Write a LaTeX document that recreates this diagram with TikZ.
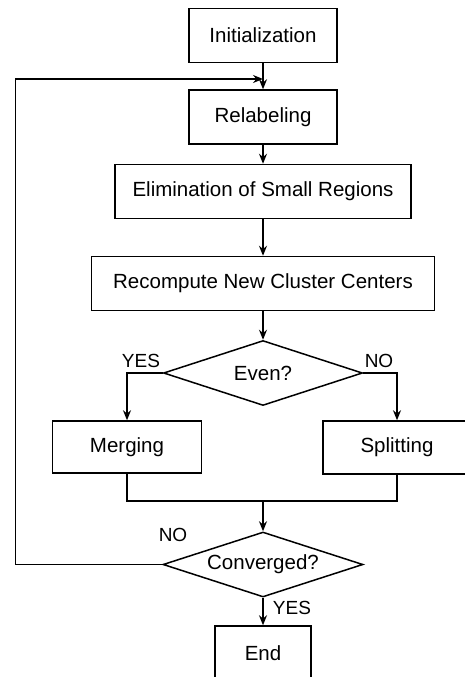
\documentclass[tikz,border=0pt]{standalone}
\usepackage{fontspec}
\setmainfont{Liberation Sans}
\usetikzlibrary{shapes.geometric, arrows.meta}
\begin{document}
\begin{tikzpicture}[>={Stealth[length=10pt, width=8pt]}, x=1pt, y=-1pt, line width=1.5pt,
  font=\fontsize{20.5}{24}\selectfont,
  box/.style={draw, minimum height=54pt, inner sep=0pt},
  decide/.style={draw, diamond, aspect=3, inner sep=0pt, minimum width=199pt, minimum height=65pt},
  lab/.style={font=\fontsize{19}{22}\selectfont, inner sep=0pt}]
\useasboundingbox(0,0)rectangle(465,677);
\clip(0,0)rectangle(465,677);
\node[box, minimum width=148pt](init) at (263,35.5){Initialization};
\node[box, minimum width=148pt](relab) at (263,117){Relabeling};
\node[box, minimum width=296pt](elim) at (263,191.5){Elimination of Small Regions};
\node[box, minimum width=343pt](recomp) at (263,283.5){Recompute New Cluster Centers};
\node[decide](even) at (263,373){Even?};
\node[box, minimum width=149pt, minimum height=52pt](merg) at (127,447){Merging};
\node[box, minimum width=148pt, minimum height=53pt](split) at (397,447.5){Splitting};
\node[decide, minimum width=200pt](conv) at (263,564.5){Converged?};
\node[box, minimum width=96pt](end) at (263,653){End};
\coordinate(join) at (263,501);
\coordinate(back) at (263,79);
\draw[->](init)--(relab);
\draw[->](relab)--(elim);
\draw[->](elim)--(recomp);
\draw[->](recomp)--(even);
\draw[->](even.west)-|(merg);
\draw[->](even.east)-|(split);
\draw(merg)|-(join)-|(split);
\draw[->](join)--(conv);
\draw[->](conv)--(end);
\draw[->](conv.west)--++(-147,0)|-(back);
\node[lab](yes1) at (141,361){YES};
\node[lab](no1) at (379,361){NO};
\node[lab](no2) at (173,535){NO};
\node[lab](yes2) at (292,608){YES};
\end{tikzpicture}
\end{document}
